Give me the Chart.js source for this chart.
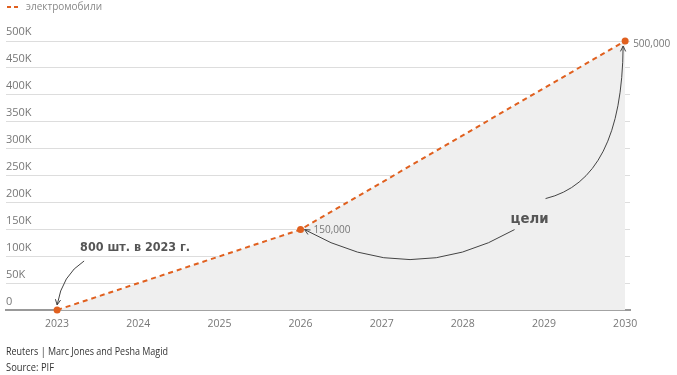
<!DOCTYPE html>
<html>
<head>
<meta charset="utf-8">
<script src="https://cdn.jsdelivr.net/npm/chart.js@4"></script>
<style>
  html, body { margin: 0; padding: 0; background: #fff; }
  #wrap { width: 677px; height: 375px; position: relative; }
</style>
</head>
<body>
<div id="wrap"><canvas id="myChart" width="677" height="375"></canvas></div>
<script>
const years = [2023, 2026, 2030];
const evCounts = [800, 150000, 500000];
const pointLabels = ['', '150,000', '500,000'];
const xTickYears = [2023, 2024, 2025, 2026, 2027, 2028, 2029, 2030];
const yTickValues = [0, 50000, 100000, 150000, 200000, 250000, 300000, 350000, 400000, 450000, 500000];
const seriesLabel = 'электромобили';
const noteStart = '800 шт. в 2023 г.';
const noteGoals = 'цели';
const credits = ['Reuters | Marc Jones and Pesha Magid', 'Source: PIF'];

const ORANGE = '#e0601f';
const FONT = '"Open Sans", sans-serif';

function arrowHead(ctx, x, y, fromX, fromY) {
  const a = Math.atan2(y - fromY, x - fromX);
  const len = 6;
  ctx.beginPath();
  ctx.moveTo(x - len * Math.cos(a - 0.45), y - len * Math.sin(a - 0.45));
  ctx.lineTo(x, y);
  ctx.lineTo(x - len * Math.cos(a + 0.45), y - len * Math.sin(a + 0.45));
  ctx.stroke();
}

const extras = {
  id: 'extras',
  afterDatasetsDraw(chart) {
    const ctx = chart.ctx;
    const xs = chart.scales.x, ys = chart.scales.y;
    const p0 = { x: xs.getPixelForValue(years[0]), y: ys.getPixelForValue(evCounts[0]) };
    const p1 = { x: xs.getPixelForValue(years[1]), y: ys.getPixelForValue(evCounts[1]) };
    const p2 = { x: xs.getPixelForValue(years[2]), y: ys.getPixelForValue(evCounts[2]) };
    ctx.save();

    // legend
    ctx.strokeStyle = ORANGE;
    ctx.lineWidth = 2;
    ctx.setLineDash([4, 3]);
    ctx.beginPath();
    ctx.moveTo(7, 7); ctx.lineTo(21, 7);
    ctx.stroke();
    ctx.setLineDash([]);
    ctx.fillStyle = '#888';
    ctx.font = '10.5px ' + FONT;
    ctx.textBaseline = 'middle';
    ctx.fillText(seriesLabel, 26, 7, 76);

    // point value labels
    ctx.fillStyle = '#777';
    ctx.font = '11px ' + FONT;
    ctx.fillText(pointLabels[1], p1.x + 13, p1.y, 37);
    ctx.fillText(pointLabels[2], p2.x + 8, p2.y + 3, 37);

    // notes
    ctx.fillStyle = '#555';
    ctx.font = 'bold 12px "DejaVu Sans", sans-serif';
    ctx.textBaseline = 'alphabetic';
    ctx.fillText(noteStart, p0.x + 23, p0.y - 59, 110);
    ctx.font = 'bold 14px "DejaVu Sans", sans-serif';
    ctx.fillText(noteGoals, p1.x + 210, p1.y - 7, 38);

    // arrows
    ctx.strokeStyle = '#444';
    ctx.lineWidth = 1;
    let sx = p0.x + 27, sy = p0.y - 49, cx = p0.x + 5, cy = p0.y - 35, ex = p0.x, ey = p0.y - 5;
    ctx.beginPath(); ctx.moveTo(sx, sy); ctx.quadraticCurveTo(cx, cy, ex, ey); ctx.stroke();
    arrowHead(ctx, ex, ey, cx, cy);

    sx = p1.x + 214; sy = p1.y; cx = p1.x + 110; cy = p1.y + 60; ex = p1.x + 4; ey = p1.y;
    ctx.beginPath(); ctx.moveTo(sx, sy); ctx.quadraticCurveTo(cx, cy, ex, ey); ctx.stroke();
    arrowHead(ctx, ex, ey, cx, cy);

    sx = p1.x + 245; sy = p1.y - 31; cx = p2.x - 3; cy = p2.y + 139; ex = p2.x - 2; ey = p2.y + 5;
    ctx.beginPath(); ctx.moveTo(sx, sy); ctx.quadraticCurveTo(cx, cy, ex, ey); ctx.stroke();
    arrowHead(ctx, ex, ey, cx, cy);

    // credits
    ctx.fillStyle = '#333';
    ctx.font = '10.5px ' + FONT;
    ctx.textBaseline = 'middle';
    ctx.fillText(credits[0], 6, 352, 162);
    ctx.fillText(credits[1], 6, 368, 48);
    ctx.restore();
  }
};

window.onload = function () {
  const ctx = document.getElementById('myChart');
  window.myChart = new Chart(ctx, {
    type: 'line',
    data: {
      datasets: [{
        label: seriesLabel,
        data: years.map((y, i) => ({ x: y, y: evCounts[i] })),
        borderColor: ORANGE,
        borderWidth: 2,
        borderDash: [5, 4],
        backgroundColor: '#efefef',
        fill: 'origin',
        clip: false,
        pointRadius: 3.5,
        pointBackgroundColor: ORANGE,
        pointBorderWidth: 0,
        tension: 0
      }]
    },
    options: {
      responsive: false,
      animation: false,
      layout: { padding: { left: 6, right: 47, top: 41, bottom: 38 } },
      plugins: { legend: { display: false }, tooltip: { enabled: false } },
      scales: {
        x: {
          type: 'linear',
          min: 2022.37,
          max: 2030.06,
          afterBuildTicks: (s) => { s.ticks = xTickYears.map(v => ({ value: v })); },
          grid: { display: false, drawTicks: false },
          border: { display: true, color: '#999', width: 2 },
          ticks: {
            color: '#777',
            font: { family: FONT, size: 10.5 },
            padding: 7,
            maxRotation: 0,
            callback: (v) => String(v)
          }
        },
        y: {
          min: 0,
          max: 500000,
          afterBuildTicks: (s) => { s.ticks = yTickValues.map(v => ({ value: v })); },
          grid: { color: '#ddd', drawTicks: false },
          border: { display: false },
          ticks: {
            mirror: true,
            padding: 0,
            labelOffset: -9,
            color: '#777',
            font: { family: FONT, size: 11 },
            callback: (v) => v === 0 ? '0' : (v / 1000) + 'K'
          }
        }
      }
    },
    plugins: [extras]
  });
};
</script>
</body>
</html>
